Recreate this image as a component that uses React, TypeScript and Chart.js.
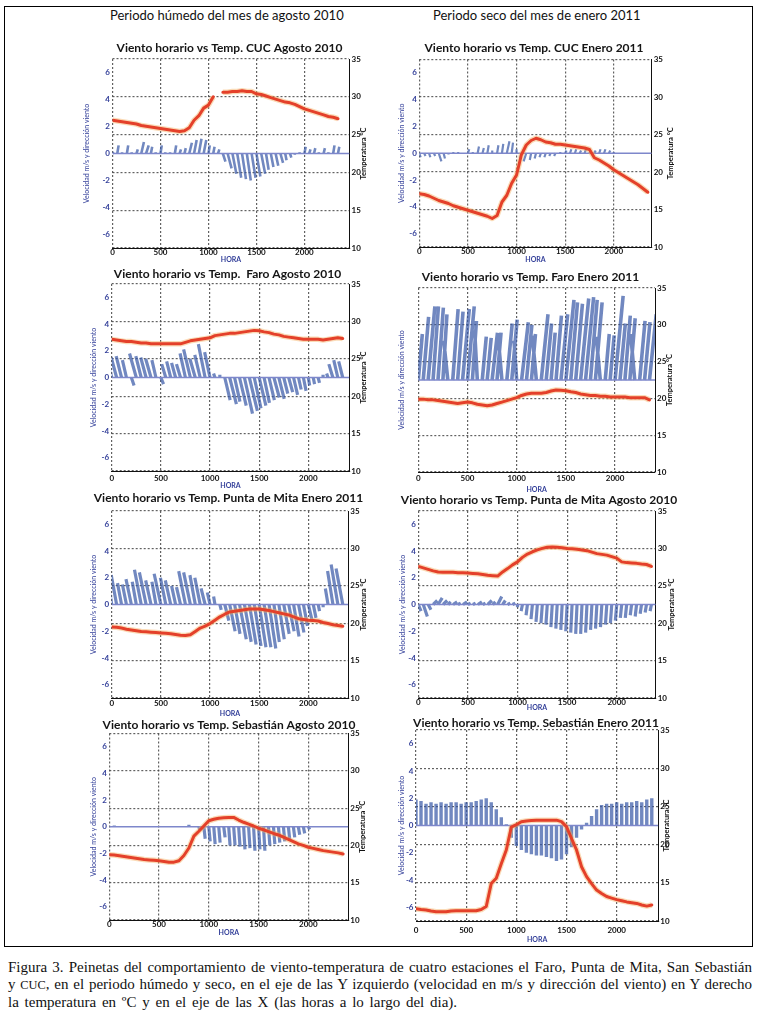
import React, { useEffect, useRef } from 'react';
import { Chart, registerables } from 'chart.js';

Chart.register(...registerables);
Chart.defaults.font.family = 'Lato';

// ---------- shared axes ----------
const HOURS = [0, 50, 100, 150, 200, 250, 300, 350, 400, 450, 500, 550, 600, 650, 700, 750, 800, 850, 900, 950,
  1000, 1050, 1100, 1150, 1200, 1250, 1300, 1350, 1400, 1450, 1500, 1550, 1600, 1650, 1700, 1750, 1800, 1850, 1900, 1950,
  2000, 2050, 2100, 2150, 2200, 2250, 2300, 2350];
const X_TICKS = [0, 500, 1000, 1500, 2000];
const WIND_TICKS = [-6, -4, -2, 0, 2, 4, 6];
const TEMP_TICKS = [10, 15, 20, 25, 30, 35];
const WIND_MIN = -7;
const WIND_MAX = 7;
const TEMP_MIN = 10;
const TEMP_MAX = 35;
const WIND_BASE = 0;

// ---------- CUC Agosto 2010 ----------
const CUC_AGO_TEMP = [26.9, 26.8, 26.7, 26.6, 26.5, 26.4, 26.2, 26.1, 26.0, 25.9,
  25.8, 25.7, 25.6, 25.5, 25.4, 25.5, 25.9, 26.9, 27.5, 28.5,
  28.9, 30.0, null, 30.6, 30.6, 30.7, 30.7, 30.8, 30.7, 30.7,
  30.4, 30.3, 30.1, 29.9, 29.7, 29.5, 29.3, 29.2, 29.0, 28.7,
  28.4, 28.2, 28.0, 27.8, 27.6, 27.4, 27.3, 27.1];
const CUC_AGO_V = [0.1, 0.6, 0.1, 0.6, 0.1, 0.3, 0.85, 0.6, 0.5, 0.1,
  0.6, 0.1, 0.1, 0.6, 0.3, 0.4, 0.8, 1.0, 1.1, 1.0,
  0.6, 0.5, 0.3, -0.6, -1.1, -1.5, -1.8, -1.9, -2.0, -1.8,
  -1.7, -1.5, -1.2, -1.0, -0.9, -0.7, -0.5, -0.3, -0.1, 0.1,
  0.5, 0.3, 0.4, 0.1, 0.4, 0.1, 0.6, 0.5];
const CUC_AGO_U = [0.1, 0.1, 0, 0.1, 0, 0.1, 0.2, 0.2, 0.1, 0,
  0.1, 0, 0, 0.1, 0.1, 0.1, 0.2, 0.2, 0.2, 0.2,
  0.1, 0.1, 0.1, 0.2, 0.3, 0.3, 0.3, 0.3, 0.3, 0.3,
  0.3, 0.3, 0.2, 0.2, 0.2, 0.2, 0.1, 0.1, 0, 0,
  0.1, 0.1, 0.1, 0, 0.1, 0, 0.1, 0.1];

// ---------- CUC Enero 2011 ----------
const CUC_ENE_TEMP = [17.1, 17.0, 16.8, 16.5, 16.2, 16.0, 15.8, 15.5, 15.3, 15.1,
  14.9, 14.7, 14.5, 14.3, 14.1, 13.8, 14.2, 16.0, 16.9, 18.5,
  19.6, 22.3, 23.6, 24.2, 24.5, 24.3, 24.0, 23.9, 23.7, 23.7,
  23.6, 23.5, 23.4, 23.3, 23.2, 23.0, 21.9, 21.6, 21.2, 20.8,
  20.3, 19.9, 19.5, 19.1, 18.7, 18.3, 17.8, 17.3];
const CUC_ENE_V = [-0.3, -0.2, -0.3, -0.2, -0.6, -0.4, -0.1, 0.1, 0.1, 0.0,
  0.3, 0.1, 0.5, 0.4, 0.6, 0.2, 0.6, 0.7, 0.9, 0.8,
  0.3, -0.4, -0.6, -0.5, -0.4, -0.3, -0.3, -0.2, -0.2, 0.1,
  0.2, 0.3, 0.3, 0.2, 0.3, 0.2, 0.2, 0.3, 0.3, 0.2,
  0.1, 0, 0, 0, 0, 0, 0, 0];
const CUC_ENE_U = [0.1, 0.1, 0.1, 0.1, 0.2, 0.1, 0, 0, 0, 0,
  0.1, 0, 0.1, 0.1, 0.1, 0, 0.1, 0.1, 0.2, 0.1,
  0, -0.1, -0.2, -0.1, -0.1, -0.1, -0.1, -0.1, -0.1, 0,
  0.1, 0.1, 0.1, 0.1, 0.1, 0.1, 0.1, 0.1, 0.1, 0.1,
  0, 0, 0, 0, 0, 0, 0, 0];

// ---------- Faro Agosto 2010 ----------
const FARO_AGO_TEMP = [27.6, 27.5, 27.4, 27.3, 27.3, 27.2, 27.1, 27.1, 27.0, 27.0,
  27.0, 27.0, 27.0, 27.0, 27.0, 27.2, 27.4, 27.5, 27.6, 27.7,
  27.8, 28.1, 28.2, 28.3, 28.4, 28.4, 28.5, 28.6, 28.7, 28.8,
  28.75, 28.6, 28.5, 28.3, 28.2, 28.0, 27.9, 27.8, 27.7, 27.6,
  27.6, 27.6, 27.6, 27.5, 27.6, 27.7, 27.8, 27.7];
const FARO_AGO_V = [1.2, 1.5, 1.6, 1.3, -0.6, 1.8, 1.6, 1.5, 1.4, 1.3,
  -0.5, 1.0, 1.2, 1.1, 1.0, 1.8, 2.1, 1.4, 1.7, 2.5,
  1.9, 0.3, 0.2, -1.7, -2.0, -1.8, -2.1, -2.7, -2.5, -2.3,
  -2.1, -1.9, -1.7, -1.5, -1.6, -1.2, -1.1, -1.3, -0.9, -1.0,
  -0.6, -0.5, -0.4, 0.2, 0.3, 1.0, 1.3, 1.2];
const FARO_AGO_U = [-0.3, -0.4, -0.4, -0.3, 0.2, -0.5, -0.4, -0.4, -0.4, -0.3,
  0.2, -0.3, -0.3, -0.3, -0.3, -0.4, -0.5, -0.4, -0.4, -0.5,
  -0.4, -0.1, 0, 0.4, 0.5, 0.4, 0.5, 0.6, 0.6, 0.5,
  0.5, 0.4, 0.4, 0.4, 0.4, 0.3, 0.3, 0.3, 0.2, 0.2,
  0.1, 0.1, 0.1, 0, -0.1, -0.3, -0.3, -0.3];

// ---------- Faro Enero 2011 ----------
const FARO_ENE_TEMP = [19.9, 19.9, 19.8, 19.8, 19.7, 19.6, 19.5, 19.4, 19.3, 19.4,
  19.5, 19.4, 19.2, 19.1, 19.0, 19.1, 19.3, 19.5, 19.7, 19.9,
  20.1, 20.4, 20.6, 20.7, 20.7, 20.7, 20.8, 21.0, 21.15, 21.1,
  21.05, 20.9, 20.8, 20.6, 20.5, 20.4, 20.4, 20.3, 20.3, 20.2,
  20.2, 20.2, 20.2, 20.1, 20.1, 20.1, 20.1, 19.8];
const FARO_ENE_V = [3.5, 4.8, 5.6, 5.6, 5.5, 5.0, 3.0, 5.4, 5.2, 5.4,
  5.6, 4.5, 3.8, 3.3, 3.2, 3.6, 3.6, 3.5, 4.3, 4.6,
  3.0, 4.4, 4.2, 3.5, 3.4, 5.0, 4.3, 3.6, 4.9, 5.0,
  6.1, 5.9, 5.8, 6.2, 6.3, 6.1, 5.9, 3.3, 3.5, 3.4,
  6.4, 4.3, 4.9, 4.7, 3.5, 4.5, 4.4, 5.0];
const FARO_ENE_U = [0.3, 0.4, 0.5, 0.4, 0.4, 0.3, -0.3, 0.4, 0.4, 0.5,
  0.5, 0.3, -0.2, 0.3, 0.3, 0.4, 0.3, -0.3, 0.4, 0.4,
  -0.2, 0.5, 0.4, 0.3, -0.3, 0.5, 0.4, 0.3, 0.4, 0.5,
  0.6, 0.5, 0.5, 0.6, 0.6, 0.5, 0.5, -0.3, 0.3, 0.3,
  0.6, 0.4, 0.4, 0.4, -0.3, 0.4, 0.4, 0.5];

// ---------- Punta de Mita Enero 2011 ----------
const PM_ENE_TEMP = [19.5, 19.45, 19.35, 19.2, 19.1, 19.0, 18.9, 18.85, 18.8, 18.75,
  18.7, 18.65, 18.6, 18.5, 18.4, 18.35, 18.45, 18.9, 19.35, 19.6,
  19.95, 20.4, 20.85, 21.2, 21.5, 21.6, 21.7, 21.8, 21.9, 21.9,
  21.9, 21.8, 21.7, 21.55, 21.4, 21.25, 21.1, 20.85, 20.6, 20.5,
  20.4, 20.35, 20.3, 20.1, 19.95, 19.8, 19.7, 19.6];
const PM_ENE_V = [2.5, 2.2, 1.6, 1.5, 1.9, 1.7, 2.6, 2.4, 1.8, 1.7,
  2.3, 2.0, 1.8, 1.4, 1.3, 2.5, 2.4, 2.2, 2.0, 1.2,
  0.9, 0.6, -0.4, -1.2, -2.0, -2.2, -2.6, -2.8, -3.0, -3.1,
  -3.2, -3.2, -3.3, -2.8, -2.6, -2.2, -2.0, -2.4, -2.1, -1.6,
  -1.3, -1.0, -0.5, -0.2, 1.2, 2.5, 3.0, 2.7];
const PM_ENE_U = [-0.4, -0.4, -0.3, -0.3, -0.4, -0.3, -0.5, -0.5, -0.4, -0.3,
  -0.5, -0.4, -0.4, -0.3, -0.3, -0.5, -0.5, -0.4, -0.4, -0.3,
  -0.2, -0.1, 0.1, 0.3, 0.4, 0.4, 0.5, 0.5, 0.5, 0.5,
  0.5, 0.5, 0.5, 0.4, 0.4, 0.4, 0.4, 0.4, 0.4, 0.3,
  0.3, 0.2, 0.1, 0, -0.2, -0.4, -0.5, -0.5];

// ---------- Punta de Mita Agosto 2010 ----------
const PM_AGO_TEMP = [27.6, 27.4, 27.2, 27.0, 26.85, 26.8, 26.8, 26.8, 26.75, 26.75,
  26.7, 26.65, 26.6, 26.5, 26.4, 26.35, 26.3, 26.85, 27.3, 27.8,
  28.2, 28.8, 29.25, 29.55, 29.8, 30.0, 30.15, 30.2, 30.15, 30.1,
  30.0, 29.95, 29.9, 29.8, 29.7, 29.5, 29.3, 29.2, 29.1, 28.9,
  28.7, 28.2, 28.1, 28.05, 28.0, 27.9, 27.85, 27.6];
const PM_AGO_V = [-0.5, -0.9, -0.4, 0.3, 0.5, 0.3, 0.2, 0.2, 0.1, 0.2,
  0.1, 0.1, 0.2, 0.1, 0.3, 0.2, 0.6, 0.3, 0.1, 0.1,
  -0.2, -0.5, -0.8, -1.1, -1.3, -1.4, -1.5, -1.7, -1.8, -1.9,
  -2.0, -2.1, -2.2, -2.2, -2.1, -1.9, -1.8, -1.7, -1.5, -1.4,
  -1.2, -1.0, -1.0, -0.8, -0.9, -0.7, -0.6, -0.5];
const PM_AGO_U = [0.2, 0.3, 0.2, 0.3, 0.3, 0.3, 0.2, 0.3, 0.2, 0.3,
  0.2, 0.2, 0.3, 0.2, 0.3, 0.2, 0.3, 0.2, 0.2, 0.2,
  0, -0.1, -0.1, -0.1, -0.1, -0.1, -0.1, -0.1, -0.1, -0.1,
  -0.1, -0.1, -0.1, -0.1, -0.1, -0.1, -0.1, -0.1, -0.1, -0.1,
  -0.1, -0.1, -0.1, -0.1, -0.1, -0.1, -0.1, -0.1];

// ---------- Sebastián Agosto 2010 ----------
const SEB_AGO_TEMP = [18.75, 18.7, 18.6, 18.5, 18.4, 18.3, 18.2, 18.1, 18.05, 18.0,
  17.95, 17.85, 17.75, 17.75, 17.95, 18.65, 19.65, 21.25, 21.9, 22.6,
  23.3, 23.5, 23.65, 23.7, 23.75, 23.75, 23.4, 23.1, 22.85, 22.6,
  22.3, 22.1, 21.85, 21.6, 21.4, 21.1, 20.8, 20.5, 20.2, 20.0,
  19.75, 19.6, 19.45, 19.3, 19.2, 19.1, 19.0, 18.85];
const SEB_AGO_V = [0, 0.1, 0, 0, 0, 0, 0, 0, 0, 0,
  0, 0, 0, 0, 0, 0, 0.15, 0, -0.3, -0.9,
  -1.1, -1.3, -1.2, -0.8, -1.4, -1.4, -1.5, -1.7, -1.6, -1.8,
  -1.7, -1.8, -1.4, -1.3, -1.2, -1.1, -1.0, -0.8, -0.6, -0.5,
  -0.2, 0, 0, 0, 0, 0, 0, 0];
const SEB_AGO_U = [0, 0, 0, 0, 0, 0, 0, 0, 0, 0,
  0, 0, 0, 0, 0, 0, 0, 0, 0.1, 0.1,
  0.1, 0.1, 0.1, 0.1, 0.1, 0.1, 0.1, 0.1, 0.1, 0.1,
  0.1, 0.1, 0.1, 0.1, 0.1, 0.1, 0.1, 0.1, 0.1, 0.1,
  0.1, 0, 0, 0, 0, 0, 0, 0];

// ---------- Sebastián Enero 2011 ----------
const SEB_ENE_TEMP = [11.6, 11.5, 11.45, 11.3, 11.2, 11.2, 11.2, 11.3, 11.35, 11.35,
  11.35, 11.35, 11.35, 11.5, 11.9, 14.9, 15.6, 17.5, 19.3, 22.3,
  22.6, 23.0, 23.1, 23.15, 23.2, 23.2, 23.2, 23.2, 23.2, 23.0,
  22.35, 20.8, 19.3, 17.1, 15.8, 14.9, 14.05, 13.6, 13.2, 13.0,
  12.8, 12.65, 12.5, 12.4, 12.3, 12.1, 11.95, 12.1];
const SEB_ENE_V = [1.9, 1.8, 1.6, 1.7, 1.6, 1.7, 1.6, 1.7, 1.7, 1.6,
  1.7, 1.7, 1.8, 1.9, 2.0, 1.7, 1.2, 0.6, 0.1, -0.9,
  -1.5, -1.8, -2.0, -2.1, -2.2, -2.2, -2.3, -2.4, -2.6, -2.5,
  -2.1, -1.6, -0.9, -0.3, 0.2, 0.7, 1.2, 1.5, 1.6, 1.6,
  1.7, 1.6, 1.7, 1.7, 1.8, 1.7, 1.9, 2.0];
const SEB_ENE_U = [0, 0, 0, 0, 0, 0, 0, 0, 0, 0,
  0, 0, 0, 0, 0, 0, 0, 0, 0, 0,
  0, 0, 0, 0, 0, 0, 0, 0, 0, 0,
  0, 0, 0, 0, 0, 0, 0, 0, 0, 0,
  0, 0, 0, 0, 0, 0, 0, 0];

// ---------- texts ----------
const HEADER_LEFT = 'Periodo húmedo del mes de agosto 2010';
const HEADER_RIGHT = 'Periodo seco del mes de enero 2011';
const LEFT_TITLE = 'Velocidad m/s y dirección viento';
const RIGHT_TITLE = 'Temperatura °C';
const X_TITLE = 'HORA';

// ---------- styling / layout constants ----------
const U_SCALE = 137; // hour-units per m/s for stick slant
const LW = 34;
const XH = 23;
const TITLE_LH = 12;
const BLUE = '#34409a';
const GRID = 'rgba(70,70,70,0.85)';

const PANELS = [
  { title: 'Viento horario vs Temp. CUC Agosto 2010', temp: CUC_AGO_TEMP, v: CUC_AGO_V, u: CUC_AGO_U, xMax: 2470, stickW: 2.6,
    plotL: 112.5, plotT: 59, plotR: 349.5, plotB: 248, titleX: 229.7, titleY: 48.3, lto: 25.8, rto: 14.5, tickOff: 3.7, horaOff: 12, leftTicks: true },
  { title: 'Viento horario vs Temp. CUC Enero 2011', temp: CUC_ENE_TEMP, v: CUC_ENE_V, u: CUC_ENE_U, xMax: 2390, stickW: 2.2,
    plotL: 419.3, plotT: 59.5, plotR: 651.7, plotB: 247, titleX: 534, titleY: 48.3, lto: 17.6, rto: 19, tickOff: 3.7, horaOff: 13, leftTicks: true },
  { title: 'Viento horario vs Temp.  Faro Agosto 2010', temp: FARO_AGO_TEMP, v: FARO_AGO_V, u: FARO_AGO_U, xMax: 2417, stickW: 3.2,
    plotL: 111.7, plotT: 284, plotR: 349.3, plotB: 471, titleX: 227.5, titleY: 274, lto: 17.7, rto: 14, tickOff: 7.3, horaOff: 14.7, leftTicks: true },
  { title: 'Viento horario vs Temp. Faro Enero 2011', temp: FARO_ENE_TEMP, v: FARO_ENE_V, u: FARO_ENE_U, xMax: 2406, stickW: 3.6,
    plotL: 418.3, plotT: 288, plotR: 655, plotB: 472, titleX: 530.5, titleY: 276.7, lto: 16.6, rto: 15, tickOff: 6.3, horaOff: 18, leftTicks: false },
  { title: 'Viento horario vs Temp. Punta de Mita Enero 2011', temp: PM_ENE_TEMP, v: PM_ENE_V, u: PM_ENE_U, xMax: 2406, stickW: 3.2,
    plotL: 111.7, plotT: 511, plotR: 348.3, plotB: 698, titleX: 228.3, titleY: 498.3, lto: 18.4, rto: 15, tickOff: 5.3, horaOff: 16, leftTicks: true },
  { title: 'Viento horario vs Temp. Punta de Mita Agosto 2010', temp: PM_AGO_TEMP, v: PM_AGO_V, u: PM_AGO_U, xMax: 2393, stickW: 3.2,
    plotL: 418.3, plotT: 511, plotR: 655.7, plotB: 698, titleX: 539, titleY: 500, lto: 15.6, rto: 16, tickOff: 3.7, horaOff: 10, leftTicks: true },
  { title: 'Viento horario vs Temp. Sebastián Agosto 2010', temp: SEB_AGO_TEMP, v: SEB_AGO_V, u: SEB_AGO_U, xMax: 2402, stickW: 3.2,
    plotL: 109.3, plotT: 733.5, plotR: 348.3, plotB: 920, titleX: 229, titleY: 725, lto: 16, rto: 14.4, tickOff: 4.3, horaOff: 12.7, leftTicks: true },
  { title: 'Viento horario vs Temp. Sebastián Enero 2011', temp: SEB_ENE_TEMP, v: SEB_ENE_V, u: SEB_ENE_U, xMax: 2415, stickW: 3.4,
    plotL: 416, plotT: 730, plotR: 658.3, plotB: 921, titleX: 536, titleY: 722.7, lto: 14.3, rto: 8, tickOff: 9.7, horaOff: 18.3, leftTicks: true },
];

const rightTitlePlugin = {
  id: 'rightTitle',
  afterDraw(chart: any, _args: any, opts: any) {
    const { ctx, chartArea } = chart;
    ctx.save();
    ctx.translate(chartArea.right + opts.offset, (chartArea.top + chartArea.bottom) / 2);
    ctx.rotate(-Math.PI / 2);
    ctx.font = 'bold 7.5px Lato';
    ctx.fillStyle = '#111';
    ctx.textAlign = 'center';
    ctx.textBaseline = 'middle';
    ctx.fillText(opts.text, 0, 0);
    ctx.restore();
  },
};

function geometry(p: any) {
  const left = Math.floor(p.plotL - LW);
  const lw = p.plotL - left;
  const plotCx = (p.plotL + p.plotR) / 2;
  const rwT = lw + 2 * (p.titleX - plotCx);
  const width = Math.round(p.plotR - left + rwT);
  const rw = width - (p.plotR - left);
  const top = Math.floor(p.titleY - TITLE_LH / 2 - 1);
  const tpt = p.titleY - top - TITLE_LH / 2;
  const tpb = Math.max(0, p.plotT - p.titleY - TITLE_LH / 2);
  const height = Math.ceil(p.plotB - top + XH);
  const xh = height - (p.plotB - top);
  const xtp = Math.max(0, p.tickOff - 4);
  const hpb = Math.max(0, xh - 3.5 - p.horaOff);
  const ltp = Math.max(0, lw - p.lto - 3.5);
  return { left, top, width, height, lw, rw, xh, tpt, tpb, xtp, hpb, ltp };
}

const tickFont = { size: 8, weight: 'bold' as const, lineHeight: 1 };
const label = (v: any) => String(v);

function Panel({ p }: { p: any }) {
  const ref = useRef<HTMLCanvasElement | null>(null);
  const g = geometry(p);
  useEffect(() => {
    if (!ref.current) return;
    const sticks: any[] = [];
    HOURS.forEach((h, i) => {
      sticks.push({ x: h, y: WIND_BASE });
      sticks.push({ x: h + p.u[i] * U_SCALE, y: WIND_BASE + p.v[i] });
      sticks.push({ x: h, y: null });
    });
    const temps = HOURS.map((h, i) => ({ x: h, y: p.temp[i] }));
    const chart = new Chart(ref.current, {
      type: 'line',
      data: {
        datasets: [
          { data: temps, yAxisID: 'y2', borderColor: '#e4402a', borderWidth: 3, order: 0, pointRadius: 0, borderJoinStyle: 'round', borderCapStyle: 'round' },
          { data: temps, yAxisID: 'y2', borderColor: 'rgba(245,175,95,0.45)', borderWidth: 5.5, order: 1, pointRadius: 0, borderJoinStyle: 'round' },
          { data: [{ x: 0, y: WIND_BASE }, { x: p.xMax, y: WIND_BASE }], yAxisID: 'y', borderColor: '#7e87cb', borderWidth: 1.5, order: 2, pointRadius: 0 },
          { data: sticks, yAxisID: 'y', borderColor: 'rgba(58,90,168,0.72)', borderWidth: p.stickW, order: 3, pointRadius: 0, spanGaps: false },
        ] as any,
      },
      options: {
        animation: false,
        responsive: false,
        events: [],
        layout: { padding: 0 },
        elements: { line: { tension: 0 }, point: { radius: 0 } },
        plugins: {
          legend: { display: false },
          tooltip: { enabled: false },
          title: {
            display: true, text: p.title, color: '#151515',
            font: { size: 12, weight: 'bold', lineHeight: 1 },
            padding: { top: g.tpt, bottom: g.tpb },
          },
          rightTitle: { text: RIGHT_TITLE, offset: p.rto },
        } as any,
        scales: {
          x: {
            type: 'linear', min: 0, max: p.xMax,
            afterBuildTicks: (s: any) => { s.ticks = X_TICKS.map((value) => ({ value })); },
            afterFit: (s: any) => { s.height = g.xh; },
            grid: { color: GRID, lineWidth: 1.2, drawTicks: false },
            border: { display: true, color: '#111', width: 1, dash: [2, 2] },
            ticks: { color: '#111', font: tickFont, padding: g.xtp, maxRotation: 0, autoSkip: false, callback: label },
            title: { display: true, text: X_TITLE, color: BLUE, font: { size: 7, weight: 'bold', lineHeight: 1 }, padding: { top: 0, bottom: g.hpb } },
          },
          y: {
            type: 'linear', position: 'left', min: WIND_MIN, max: WIND_MAX,
            afterBuildTicks: (s: any) => { s.ticks = WIND_TICKS.map((value) => ({ value })); },
            afterFit: (s: any) => { s.width = g.lw; },
            grid: { display: false, drawTicks: false },
            border: { display: false },
            ticks: { display: p.leftTicks, color: BLUE, font: tickFont, padding: 2.5, callback: label },
            title: { display: true, text: LEFT_TITLE, color: BLUE, font: { size: 7, lineHeight: 1 }, padding: { top: g.ltp, bottom: 0 } },
          },
          y2: {
            type: 'linear', position: 'right', min: TEMP_MIN, max: TEMP_MAX,
            afterBuildTicks: (s: any) => { s.ticks = TEMP_TICKS.map((value) => ({ value })); },
            afterFit: (s: any) => { s.width = g.rw; },
            grid: { color: GRID, lineWidth: 1.2, drawTicks: false },
            border: { display: true, color: '#111', width: 1, dash: [2, 2] },
            ticks: { color: '#111', font: tickFont, padding: 2, callback: label },
          },
        } as any,
      },
      plugins: [rightTitlePlugin as any],
    });
    return () => chart.destroy();
  }, []);
  return (
    <canvas
      ref={ref}
      width={g.width}
      height={g.height}
      style={{ position: 'absolute', left: g.left, top: g.top, width: g.width, height: g.height }}
    />
  );
}

export default function App() {
  const lineStyle: React.CSSProperties = { textAlign: 'justify', textAlignLast: 'justify', whiteSpace: 'nowrap' };
  return (
    <div style={{ position: 'absolute', left: 0, top: 0, width: 759, height: 1018, background: '#fff', overflow: 'hidden' }}>
      <div style={{ position: 'absolute', left: 4, top: 6, width: 747, height: 939, border: '1px solid #000' }} />
      <div style={{ position: 'absolute', left: 110, top: 9, fontFamily: 'Lato', fontSize: 13, lineHeight: '13px', color: '#111', whiteSpace: 'nowrap' }}>{HEADER_LEFT}</div>
      <div style={{ position: 'absolute', left: 433, top: 9, fontFamily: 'Lato', fontSize: 13, lineHeight: '13px', color: '#111', whiteSpace: 'nowrap' }}>{HEADER_RIGHT}</div>
      {PANELS.map((p, i) => <Panel key={i} p={p} />)}
      <div style={{ position: 'absolute', left: 8, top: 959, width: 744, fontFamily: '"Liberation Serif", serif', fontSize: 15, lineHeight: '17px', color: '#111' }}>
        <div style={lineStyle}>Figura 3. Peinetas del comportamiento de viento-temperatura de cuatro estaciones el Faro, Punta de Mita, San Sebastián</div>
        <div style={lineStyle}>y <span style={{ fontSize: '0.82em' }}>CUC</span>, en el periodo húmedo y seco, en el eje de las Y izquierdo (velocidad en m/s y dirección del viento) en Y derecho</div>
        <div style={{ whiteSpace: 'nowrap', wordSpacing: 2 }}>la temperatura en ºC y en el eje de las X (las horas a lo largo del dia).</div>
      </div>
    </div>
  );
}
